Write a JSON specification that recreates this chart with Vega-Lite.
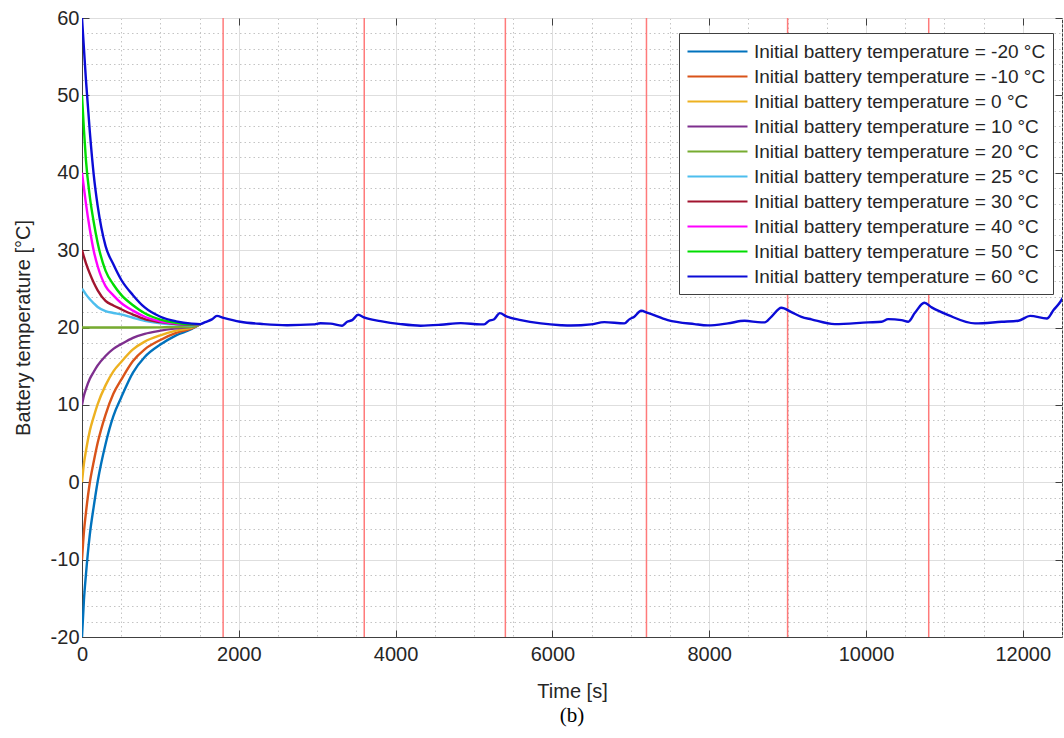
{
"$schema": "https://vega.github.io/schema/vega-lite/v6.json",
"width": 980, "height": 619,
"autosize": "none",
"padding": {"left": 82, "top": 18, "right": 2, "bottom": 101},
"background": "white",
"title": {"text": "(b)", "orient": "bottom", "font": "Liberation Serif", "fontSize": 21, "fontWeight": "normal", "color": "#000000", "offset": 4},
"datasets": {
"rules": [{"x": 1800}, {"x": 3600}, {"x": 5400}, {"x": 7200}, {"x": 9000}, {"x": 10800}],
"lines": [
{"k":-20,"t":0,"T":-20},{"k":-20,"t":25,"T":-15.18},{"k":-20,"t":50,"T":-11.96},{"k":-20,"t":100,"T":-6.73},{"k":-20,"t":150,"T":-3.12},{"k":-20,"t":200,"T":0.1},{"k":-20,"t":300,"T":4.92},{"k":-20,"t":400,"T":8.54},{"k":-20,"t":500,"T":10.95},{"k":-20,"t":650,"T":14.17},{"k":-20,"t":800,"T":16.18},{"k":-20,"t":1000,"T":17.79},{"k":-20,"t":1200,"T":18.99},{"k":-20,"t":1400,"T":19.8},{"k":-20,"t":1508,"T":20.44},
{"k":-10,"t":0,"T":-10},{"k":-10,"t":25,"T":-6.38},{"k":-10,"t":50,"T":-3.96},{"k":-10,"t":100,"T":-0.03},{"k":-10,"t":150,"T":2.68},{"k":-10,"t":200,"T":5.1},{"k":-10,"t":300,"T":8.72},{"k":-10,"t":400,"T":11.44},{"k":-10,"t":500,"T":13.25},{"k":-10,"t":650,"T":15.67},{"k":-10,"t":800,"T":17.18},{"k":-10,"t":1000,"T":18.39},{"k":-10,"t":1200,"T":19.29},{"k":-10,"t":1400,"T":19.9},{"k":-10,"t":1508,"T":20.44},
{"k":0,"t":0,"T":0},{"k":0,"t":25,"T":2.42},{"k":0,"t":50,"T":4.04},{"k":0,"t":100,"T":6.67},{"k":0,"t":150,"T":8.48},{"k":0,"t":200,"T":10.1},{"k":0,"t":300,"T":12.52},{"k":0,"t":400,"T":14.34},{"k":0,"t":500,"T":15.55},{"k":0,"t":650,"T":17.17},{"k":0,"t":800,"T":18.18},{"k":0,"t":1000,"T":18.99},{"k":0,"t":1200,"T":19.59},{"k":0,"t":1400,"T":19.99},{"k":0,"t":1508,"T":20.44},
{"k":10,"t":0,"T":10},{"k":10,"t":25,"T":11.22},{"k":10,"t":50,"T":12.04},{"k":10,"t":100,"T":13.37},{"k":10,"t":150,"T":14.28},{"k":10,"t":200,"T":15.1},{"k":10,"t":300,"T":16.32},{"k":10,"t":400,"T":17.24},{"k":10,"t":500,"T":17.85},{"k":10,"t":650,"T":18.67},{"k":10,"t":800,"T":19.18},{"k":10,"t":1000,"T":19.59},{"k":10,"t":1200,"T":19.89},{"k":10,"t":1400,"T":20.1},{"k":10,"t":1508,"T":20.44},
{"k":20,"t":0,"T":20},{"k":20,"t":500,"T":20},{"k":20,"t":1000,"T":20.02},{"k":20,"t":1200,"T":20.05},{"k":20,"t":1400,"T":20.1},{"k":20,"t":1508,"T":20.44},
{"k":25,"t":0,"T":25},{"k":25,"t":25,"T":24.66},{"k":25,"t":50,"T":24.28},{"k":25,"t":100,"T":23.66},{"k":25,"t":150,"T":23.13},{"k":25,"t":200,"T":22.65},{"k":25,"t":300,"T":22.12},{"k":25,"t":400,"T":21.88},{"k":25,"t":500,"T":21.69},{"k":25,"t":650,"T":21.26},{"k":25,"t":800,"T":20.87},{"k":25,"t":1000,"T":20.54},{"k":25,"t":1200,"T":20.37},{"k":25,"t":1400,"T":20.3},{"k":25,"t":1508,"T":20.44},
{"k":30,"t":0,"T":30},{"k":30,"t":25,"T":29.12},{"k":30,"t":50,"T":28.33},{"k":30,"t":100,"T":26.96},{"k":30,"t":150,"T":25.79},{"k":30,"t":200,"T":24.81},{"k":30,"t":300,"T":23.43},{"k":30,"t":400,"T":22.85},{"k":30,"t":500,"T":22.36},{"k":30,"t":650,"T":21.67},{"k":30,"t":800,"T":21.08},{"k":30,"t":1000,"T":20.69},{"k":30,"t":1200,"T":20.45},{"k":30,"t":1400,"T":20.35},{"k":30,"t":1508,"T":20.44},
{"k":40,"t":0,"T":40},{"k":40,"t":25,"T":38.02},{"k":40,"t":50,"T":36.04},{"k":40,"t":100,"T":32.67},{"k":40,"t":150,"T":29.9},{"k":40,"t":200,"T":27.92},{"k":40,"t":300,"T":25.35},{"k":40,"t":400,"T":24.16},{"k":40,"t":500,"T":23.17},{"k":40,"t":650,"T":22.18},{"k":40,"t":800,"T":21.39},{"k":40,"t":1000,"T":20.79},{"k":40,"t":1200,"T":20.5},{"k":40,"t":1400,"T":20.4},{"k":40,"t":1508,"T":20.44},
{"k":50,"t":0,"T":50},{"k":50,"t":25,"T":45.53},{"k":50,"t":50,"T":41.66},{"k":50,"t":100,"T":36.89},{"k":50,"t":150,"T":33.61},{"k":50,"t":200,"T":30.93},{"k":50,"t":300,"T":27.35},{"k":50,"t":400,"T":25.56},{"k":50,"t":500,"T":24.22},{"k":50,"t":650,"T":22.88},{"k":50,"t":800,"T":21.84},{"k":50,"t":1000,"T":21.03},{"k":50,"t":1200,"T":20.62},{"k":50,"t":1400,"T":20.42},{"k":50,"t":1508,"T":20.44},
{"k":60,"t":0,"T":60},{"k":60,"t":25,"T":56.02},{"k":60,"t":50,"T":52.04},{"k":60,"t":100,"T":45.27},{"k":60,"t":150,"T":39.7},{"k":60,"t":200,"T":35.72},{"k":60,"t":300,"T":30.55},{"k":60,"t":400,"T":28.16},{"k":60,"t":500,"T":26.17},{"k":60,"t":650,"T":24.18},{"k":60,"t":800,"T":22.59},{"k":60,"t":1000,"T":21.39},{"k":60,"t":1200,"T":20.8},{"k":60,"t":1400,"T":20.5},{"k":60,"t":1508,"T":20.44},
{"k":60,"t":1572,"T":20.7},{"k":60,"t":1657,"T":21.05},{"k":60,"t":1721,"T":21.5},{"k":60,"t":1806,"T":21.25},{"k":60,"t":2019,"T":20.74},{"k":60,"t":2317,"T":20.44},{"k":60,"t":2616,"T":20.3},{"k":60,"t":2952,"T":20.4},{"k":60,"t":3041,"T":20.55},{"k":60,"t":3170,"T":20.5},{"k":60,"t":3318,"T":20.23},{"k":60,"t":3382,"T":20.74},{"k":60,"t":3446,"T":20.95},{"k":60,"t":3523,"T":21.64},{"k":60,"t":3595,"T":21.3},{"k":60,"t":3808,"T":20.83},{"k":60,"t":4064,"T":20.44},{"k":60,"t":4319,"T":20.23},{"k":60,"t":4575,"T":20.35},{"k":60,"t":4831,"T":20.57},{"k":60,"t":5086,"T":20.4},{"k":60,"t":5129,"T":20.4},{"k":60,"t":5193,"T":20.87},{"k":60,"t":5257,"T":21.07},{"k":60,"t":5329,"T":21.86},{"k":60,"t":5406,"T":21.47},{"k":60,"t":5598,"T":20.96},{"k":60,"t":5853,"T":20.53},{"k":60,"t":6109,"T":20.3},{"k":60,"t":6236,"T":20.25},{"k":60,"t":6492,"T":20.4},{"k":60,"t":6662,"T":20.7},{"k":60,"t":6918,"T":20.53},{"k":60,"t":6981,"T":21.05},{"k":60,"t":7045,"T":21.4},{"k":60,"t":7131,"T":22.16},{"k":60,"t":7216,"T":21.9},{"k":60,"t":7471,"T":20.96},{"k":60,"t":7812,"T":20.44},{"k":60,"t":7982,"T":20.27},{"k":60,"t":8238,"T":20.53},{"k":60,"t":8451,"T":20.87},{"k":60,"t":8665,"T":20.66},{"k":60,"t":8707,"T":20.66},{"k":60,"t":8792,"T":21.38},{"k":60,"t":8920,"T":22.55},{"k":60,"t":9048,"T":21.99},{"k":60,"t":9176,"T":21.38},{"k":60,"t":9304,"T":21.05},{"k":60,"t":9602,"T":20.44},{"k":60,"t":10027,"T":20.66},{"k":60,"t":10198,"T":20.74},{"k":60,"t":10283,"T":21.08},{"k":60,"t":10453,"T":20.96},{"k":60,"t":10539,"T":20.74},{"k":60,"t":10624,"T":21.9},{"k":60,"t":10744,"T":23.19},{"k":60,"t":10837,"T":22.6},{"k":60,"t":11050,"T":21.6},{"k":60,"t":11390,"T":20.53},{"k":60,"t":11731,"T":20.74},{"k":60,"t":11944,"T":20.87},{"k":60,"t":12093,"T":21.5},{"k":60,"t":12307,"T":21.17},{"k":60,"t":12392,"T":22.25},{"k":60,"t":12477,"T":23.3},{"k":60,"t":12541,"T":24.4}
]
},
"config": {
"font": "Liberation Sans",
"view": {"stroke": "#404040", "strokeWidth": 1},
"axis": {"labelFontSize": 20, "titleFontSize": 20, "labelColor": "#262626", "titleColor": "#262626", "titleFontWeight": "normal", "domainColor": "#404040", "tickColor": "#404040", "labelFlush": false, "labelOverlap": false, "labelFont": "Liberation Sans", "titleFont": "Liberation Sans"}
},
"resolve": {"axis": {"x": "independent", "y": "independent"}},
"layer": [
{
"data": {"name": "lines"},
"mark": {"type": "point", "opacity": 0},
"encoding": {
"x": {"field": "t", "type": "quantitative", "scale": {"domain": [0, 12500], "nice": false, "zero": false},
"axis": {"orient": "bottom", "values": [0,500,1000,1500,2000,2500,3000,3500,4000,4500,5000,5500,6000,6500,7000,7500,8000,8500,9000,9500,10000,10500,11000,11500,12000,12500], "grid": true, "gridColor": "#c4c4c4", "gridDash": [1.5, 3], "labels": false, "ticks": false, "domain": false, "title": null}},
"y": {"field": "T", "type": "quantitative", "scale": {"domain": [-20, 60], "nice": false, "zero": false},
"axis": {"orient": "left", "values": [-20,-18,-16,-14,-12,-10,-8,-6,-4,-2,0,2,4,6,8,10,12,14,16,18,20,22,24,26,28,30,32,34,36,38,40,42,44,46,48,50,52,54,56,58,60], "grid": true, "gridColor": "#c4c4c4", "gridDash": [1.5, 3], "labels": false, "ticks": false, "domain": false, "title": null}}
}
},
{
"data": {"name": "rules"},
"mark": {"type": "rule", "color": "#ff7a7a", "strokeWidth": 1.5},
"encoding": {
"x": {"field": "x", "type": "quantitative", "scale": {"domain": [0, 12500], "nice": false, "zero": false},
"axis": {"orient": "bottom", "values": [0,2000,4000,6000,8000,10000,12000], "format": "d", "grid": true, "gridColor": "#dedede", "gridWidth": 1, "tickSize": -7, "labelPadding": 14, "title": "Time [s]", "titlePadding": 17}}
}
},
{
"data": {"name": "lines"},
"mark": {"type": "line", "strokeWidth": 2.4, "clip": true, "interpolate": "monotone"},
"encoding": {
"x": {"field": "t", "type": "quantitative", "scale": {"domain": [0, 12500], "nice": false, "zero": false},
"axis": {"orient": "top", "values": [0,2000,4000,6000,8000,10000,12000], "grid": false, "labels": false, "tickSize": -7, "domain": false, "title": null}},
"y": {"field": "T", "type": "quantitative", "scale": {"domain": [-20, 60], "nice": false, "zero": false},
"axis": {"orient": "left", "values": [-20,-10,0,10,20,30,40,50,60], "labelExpr": "replace(datum.label, '−', '-')", "grid": true, "gridColor": "#dedede", "tickSize": -7, "labelPadding": 10, "title": "Battery temperature [°C]", "titlePadding": 17}},
"color": {"field": "k", "type": "nominal",
"scale": {"domain": [-20,-10,0,10,20,25,30,40,50,60], "range": ["#0072BD","#D95319","#EDB120","#7E2F8E","#77AC30","#4DBEEE","#A2142F","#FF00FF","#00DD00","#0b0bd6"]},
"legend": {"orient": "none", "legendX": 597, "legendY": 15, "title": null, "symbolType": "M-1,0H5", "symbolSize": 400, "symbolStrokeWidth": 2.2, "labelOffset": 45, "labelFontSize": 19, "labelFont": "Liberation Sans", "labelColor": "#262626", "padding": 7, "rowPadding": 3.0, "strokeColor": "#404040", "fillColor": "white", "labelLimit": 0, "labelExpr": "'Initial battery temperature = ' + datum.label + ' °C'"}},
"order": {"field": "t", "type": "quantitative"}
}
},
{
"data": {"name": "lines"},
"mark": {"type": "point", "opacity": 0},
"encoding": {
"x": {"field": "t", "type": "quantitative", "scale": {"domain": [0, 12500], "nice": false, "zero": false}, "axis": null},
"y": {"field": "T", "type": "quantitative", "scale": {"domain": [-20, 60], "nice": false, "zero": false},
"axis": {"orient": "right", "values": [-20,-10,0,10,20,30,40,50,60], "grid": false, "labels": false, "tickSize": -7, "domain": false, "title": null}}
}
}
]
}
